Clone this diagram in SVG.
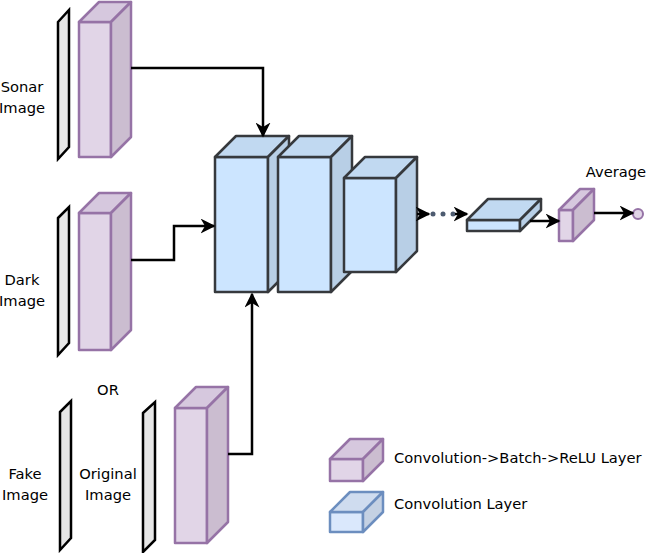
<svg xmlns="http://www.w3.org/2000/svg" width="647" height="553" viewBox="0 0 647 553">
<defs>
<marker id="ah" viewBox="0 0 10 10" refX="9" refY="5" markerWidth="6" markerHeight="6" orient="auto" markerUnits="strokeWidth">
<path d="M0,0 L10,5 L0,10 L3,5 Z" fill="#000"/>
</marker>
</defs>
<style>
text{font-family:"DejaVu Sans",Verdana,sans-serif;font-size:14.7px;fill:#000}
.slab{fill:#e6e6e6;stroke:#000;stroke-width:2.5;stroke-linejoin:miter}
.p .f{fill:#e1d5e7}.p .t{fill:#d6c8de}.p .s{fill:#cbbdd0}
.p polygon{stroke:#9673a6;stroke-width:2.5;stroke-linejoin:round}
.b .f{fill:#cce5ff}.b .t{fill:#c1d9f1}.b .s{fill:#b8cfe6}
.b polygon{stroke:#36393d;stroke-width:2.5;stroke-linejoin:round}
.l .f{fill:#dae8fc}.l .t{fill:#cfdcef}.l .s{fill:#c4d1e3}
.l polygon{stroke:#6c8ebf;stroke-width:2.5;stroke-linejoin:round}
.c{fill:none;stroke:#000;stroke-width:2.5;marker-end:url(#ah)}
</style>

<g id="sonar">
<polygon class="slab" points="58,22 69,10 69,147 58,159"/>
<text x="22" y="92" text-anchor="middle">Sonar</text>
<text x="22" y="113" text-anchor="middle">Image</text>
</g>
<g id="sonar-cube" class="p">
<polygon class="f" points="79,22 111,22 111,157 79,157"/>
<polygon class="t" points="79,22 99,2 131,2 111,22"/>
<polygon class="s" points="111,22 131,2 131,137 111,157"/>
</g>

<g id="dark">
<polygon class="slab" points="58,218 69,207 69,343 58,355"/>
<text x="22" y="285" text-anchor="middle">Dark</text>
<text x="22" y="306" text-anchor="middle">Image</text>
</g>
<g id="dark-cube" class="p">
<polygon class="f" points="79,213 111,213 111,350 79,350"/>
<polygon class="t" points="79,213 99,193 131,193 111,213"/>
<polygon class="s" points="111,213 131,193 131,330 111,350"/>
</g>

<g id="fake">
<polygon class="slab" points="60,412 71,401 71,538 60,550"/>
<text x="25" y="479" text-anchor="middle">Fake</text>
<text x="25" y="500" text-anchor="middle">Image</text>
</g>
<g id="or"><text x="108" y="395" text-anchor="middle">OR</text></g>
<g id="original">
<polygon class="slab" points="143,413 155,402 155,540 143,552"/>
<text x="108" y="479" text-anchor="middle">Original</text>
<text x="108" y="500" text-anchor="middle">Image</text>
</g>
<g id="original-cube" class="p">
<polygon class="f" points="175,408 207,408 207,543 175,543"/>
<polygon class="t" points="175,408 196,387 228,387 207,408"/>
<polygon class="s" points="207,408 228,387 228,522 207,543"/>
</g>

<g id="conv1" class="b">
<polygon class="f" points="215,157 268,157 268,292 215,292"/>
<polygon class="t" points="215,157 236,136 289,136 268,157"/>
<polygon class="s" points="268,157 289,136 289,271 268,292"/>
</g>
<g id="conv2" class="b">
<polygon class="f" points="278,157 331,157 331,292 278,292"/>
<polygon class="t" points="278,157 299,136 352,136 331,157"/>
<polygon class="s" points="331,157 352,136 352,271 331,292"/>
</g>
<g id="conv3" class="b">
<polygon class="f" points="344,178 396,178 396,272 344,272"/>
<polygon class="t" points="344,178 365,157 417,157 396,178"/>
<polygon class="s" points="396,178 417,157 417,251 396,272"/>
</g>
<g id="conv-flat" class="b">
<polygon class="f" points="467,220 520,220 520,231 467,231"/>
<polygon class="t" points="467,220 488,199 541,199 520,220"/>
<polygon class="s" points="520,220 541,199 541,210 520,231"/>
</g>
<g id="avg-cube" class="p">
<polygon class="f" points="559,210 573,210 573,241 559,241"/>
<polygon class="t" points="559,210 580,189 594,189 573,210"/>
<polygon class="s" points="573,210 594,189 594,220 573,241"/>
</g>
<g id="average">
<text x="616" y="177" text-anchor="middle">Average</text>
</g>
<g id="output">
<circle cx="638" cy="214" r="5" fill="#e1d5e7" stroke="#9673a6" stroke-width="2"/>
</g>

<g id="connectors">
<polyline class="c" points="131,68 263,68 263,136"/>
<polyline class="c" points="131,260 174,260 174,226 214,226"/>
<polyline class="c" points="228,454 252,454 252,294"/>
<polyline class="c" points="417,214 429,214"/>
<circle cx="433" cy="214" r="2.5" fill="#4d5b70"/>
<circle cx="443" cy="214" r="2.5" fill="#4d5b70"/>
<circle cx="453" cy="214" r="2.5" fill="#4d5b70"/>
<polyline class="c" points="455,214 467,214"/>
<polyline class="c" points="530,221 559,221"/>
<polyline class="c" points="594,213 633,213"/>
</g>

<g id="legend">
<g id="legend-cbr" class="p">
<polygon class="f" points="330,459 363,459 363,481 330,481"/>
<polygon class="t" points="330,459 350,439 383,439 363,459"/>
<polygon class="s" points="363,459 383,439 383,461 363,481"/>
</g>
<text x="394" y="463">Convolution-&gt;Batch-&gt;ReLU Layer</text>
<g id="legend-conv" class="l">
<polygon class="f" points="330,512 363,512 363,532 330,532"/>
<polygon class="t" points="330,512 350,492 383,492 363,512"/>
<polygon class="s" points="363,512 383,492 383,512 363,532"/>
</g>
<text x="394" y="509">Convolution Layer</text>
</g>
</svg>
